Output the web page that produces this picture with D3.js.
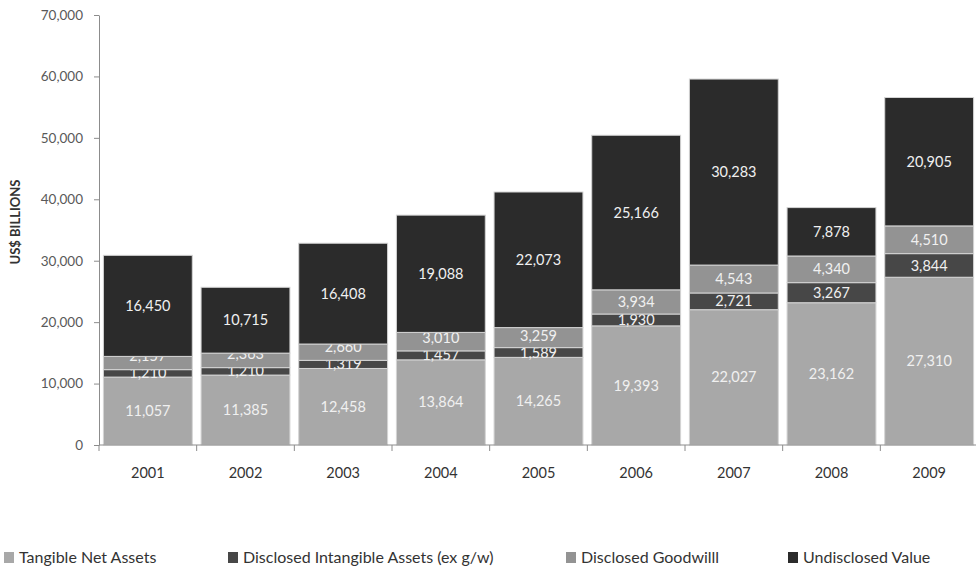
<!DOCTYPE html>
<html>
<head>
<meta charset="utf-8">
<script src="https://cdn.jsdelivr.net/npm/d3@7"></script>
<style>
  body { margin: 0; background: #fff; }
  svg text { font-family: Lato, "Open Sans", sans-serif; }
</style>
</head>
<body>
<div id="chart"></div>
<script>
const years = ["2001", "2002", "2003", "2004", "2005", "2006", "2007", "2008", "2009"];
const seriesNames = ["Tangible Net Assets", "Disclosed Intangible Assets (ex g/w)", "Disclosed Goodwilll", "Undisclosed Value"];
const tangible = [11057, 11385, 12458, 13864, 14265, 19393, 22027, 23162, 27310];
const intangible = [1210, 1210, 1319, 1457, 1589, 1930, 2721, 3267, 3844];
const goodwill = [2157, 2363, 2660, 3010, 3259, 3934, 4543, 4340, 4510];
const undisclosed = [16450, 10715, 16408, 19088, 22073, 25166, 30283, 7878, 20905];
const yTicks = [0, 10000, 20000, 30000, 40000, 50000, 60000, 70000];

const colors = ["#a8a8a8", "#474747", "#939393", "#2b2b2b"];
const keys = ["tangible", "intangible", "goodwill", "undisclosed"];

const width = 976, height = 568;
const margin = {top: 15, right: -2, bottom: 123, left: 99};
const innerW = width - margin.left - margin.right, innerH = height - margin.top - margin.bottom;

const table = years.map((y, i) => ({
    year: y, tangible: tangible[i], intangible: intangible[i], goodwill: goodwill[i], undisclosed: undisclosed[i]
}));
const stacked = d3.stack().keys(keys)(table);

const svg = d3.select("#chart").append("svg")
    .attr("width", width)
    .attr("height", height);
const g = svg.append("g").attr("transform", `translate(${margin.left}, ${margin.top})`);

const x = d3.scaleBand().domain(years).range([0, innerW]).paddingInner(0.09).paddingOuter(0.045);
const y = d3.scaleLinear().domain([0, 70000]).range([innerH, 0]);

// bars
const layers = g.selectAll(".layer")
    .data(stacked)
    .enter().append("g")
    .attr("fill", (d, i) => colors[i]);
layers.selectAll("rect")
    .data(d => d)
    .enter().append("rect")
    .attr("x", d => x(d.data.year))
    .attr("y", d => y(d[1]))
    .attr("width", x.bandwidth())
    .attr("height", d => y(d[0]) - y(d[1]))
    .attr("stroke", "#d4d4d4")
    .attr("stroke-width", 1);

// value labels, the goodwill label is pushed up when it would sit on the intangible one
function labelY(d, key) {
    const mid = y((d[0] + d[1]) / 2);
    if (key === "goodwill") {
        const below = y(d.data.tangible + d.data.intangible / 2);
        return Math.min(mid, below - 17);
    }
    return mid;
}
layers.each(function (s) {
    d3.select(this).selectAll("text")
        .data(s)
        .enter().append("text")
        .attr("x", d => x(d.data.year) + x.bandwidth() / 2)
        .attr("y", d => labelY(d, s.key))
        .attr("dy", "0.35em")
        .attr("text-anchor", "middle")
        .attr("fill", "#f0f0f0")
        .style("font-size", "14.5px")
        .text(d => d3.format(",")(d[1] - d[0]));
});

// y axis
const yAxis = g.append("g")
    .call(d3.axisLeft(y).tickValues(yTicks).tickFormat(d3.format(",")).tickSize(5).tickSizeOuter(0));
yAxis.select(".domain").attr("stroke", "#8c8c8c");
yAxis.selectAll(".tick line").attr("stroke", "#8c8c8c");
yAxis.selectAll("text").attr("fill", "#595959").style("font-size", "13.5px").attr("x", -16);

// x axis with ticks between categories
const xAxis = g.append("g").attr("transform", `translate(0, ${innerH})`);
xAxis.append("line").attr("x1", 0).attr("x2", innerW).attr("stroke", "#8c8c8c");
xAxis.selectAll(".sep")
    .data(years)
    .enter().append("line")
    .attr("x1", d => x(d) - x.step() * x.paddingInner() / 2)
    .attr("x2", d => x(d) - x.step() * x.paddingInner() / 2)
    .attr("y1", 0).attr("y2", 6)
    .attr("stroke", "#8c8c8c");
xAxis.selectAll(".lbl")
    .data(years)
    .enter().append("text")
    .attr("x", d => x(d) + x.bandwidth() / 2)
    .attr("y", 28)
    .attr("dy", "0.35em")
    .attr("text-anchor", "middle")
    .attr("fill", "#333")
    .style("font-size", "14.5px")
    .text(d => d);

// y title
svg.append("text")
    .attr("transform", "translate(15, 222) rotate(-90)")
    .attr("dy", "0.35em")
    .attr("text-anchor", "middle")
    .attr("fill", "#333")
    .style("font-size", "13px")
    .style("font-weight", "bold")
    .text("US$ BILLIONS");

// legend
const legendX = [4, 228, 566, 788];
const legend = svg.selectAll(".legend")
    .data(seriesNames)
    .enter().append("g")
    .attr("transform", (d, i) => `translate(${legendX[i]}, 557)`);
legend.append("rect")
    .attr("y", -5).attr("width", 10).attr("height", 11)
    .attr("fill", (d, i) => colors[i]);
legend.append("text")
    .attr("x", 15)
    .attr("dy", "0.35em")
    .attr("fill", "#333")
    .style("font-size", "16px")
    .text(d => d);
</script>
</body>
</html>
